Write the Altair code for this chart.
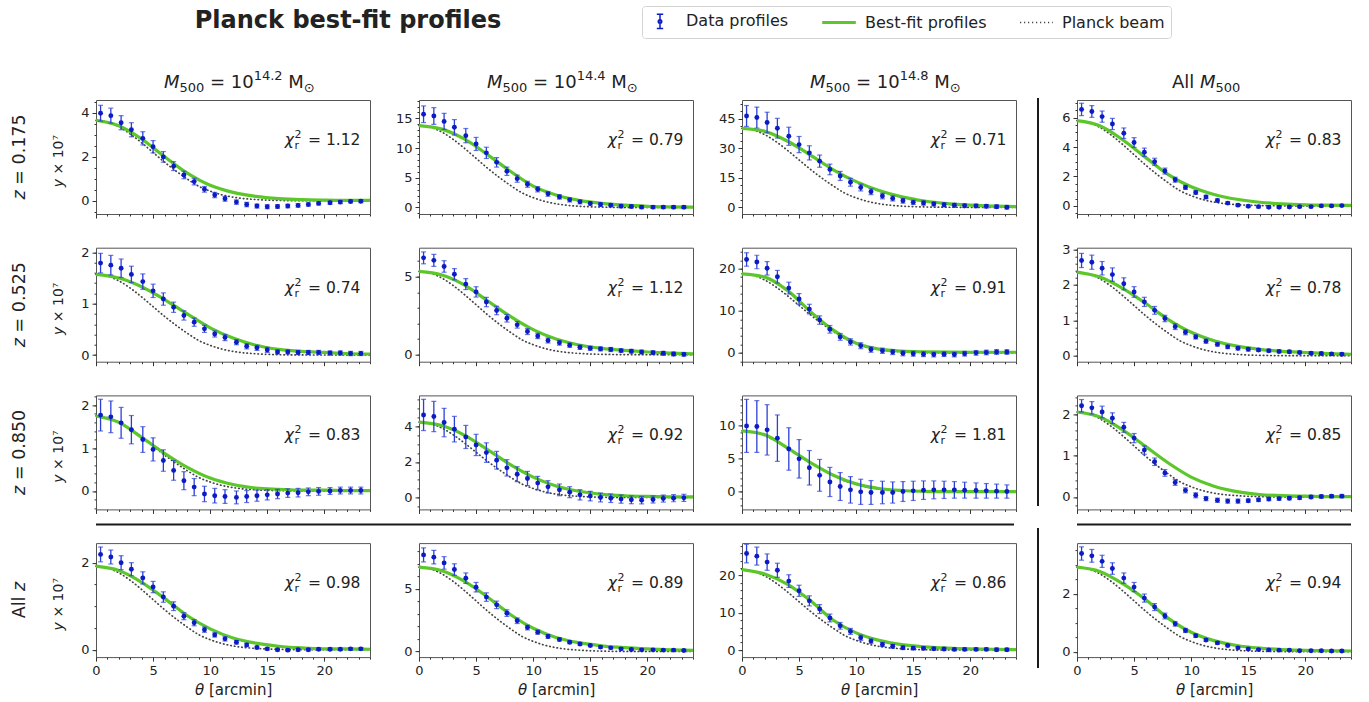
import math

import altair as alt
import pandas as pd

FONT = "DejaVu Sans"
INK = "#222222"
BLUE_PT = "#0b1bc6"
BLUE_BAR = "#2b3fd8"
GREEN = "#5cc72a"
BEAM_GREY = "#444444"

# ---------------------------------------------------------------- data
# angular bin centres of the stacked profiles [arcmin]
theta_bins = [0.4, 1.3, 2.2, 3.1, 4.1, 5.0, 5.9, 6.8, 7.7, 8.6, 9.5, 10.4, 11.3,
              12.3, 13.2, 14.1, 15.0, 15.9, 16.8, 17.7, 18.6, 19.5, 20.5, 21.4, 22.3, 23.2]
# best-fit model sampled every 2 arcmin
fit_theta = [0, 2, 4, 6, 8, 10, 12, 14, 16, 18, 20, 22, 24]
# Planck beam profile, normalised to its peak
beam_theta = [0, 1, 2, 3, 4, 5, 6, 7, 8, 9, 10, 11, 12, 13, 14, 16, 18, 20, 24]
beam_shape = [1.0, 0.98, 0.92, 0.83, 0.72, 0.6, 0.48, 0.37, 0.27, 0.18, 0.12, 0.075,
              0.045, 0.026, 0.015, 0.004, 0.001, 0.0, 0.0]

row_z = ["0.175", "0.525", "0.850", None]
col_logm = ["14.2", "14.4", "14.8", None]
x_major = [0, 5, 10, 15, 20]
x_minor = list(range(0, 25))
SERIES = ["Data profiles", "Best-fit profiles", "Planck beam"]

# z = 0.175
y_z0175_m142 = [3.97, 3.86, 3.54, 3.22, 2.83, 2.45, 1.99, 1.57, 1.17, 0.87, 0.52, 0.26, 0.09,
                -0.06, -0.17, -0.24, -0.27, -0.26, -0.24, -0.21, -0.17, -0.12, -0.09, -0.06, -0.03, -0.02]
err_z0175_m142 = [0.36, 0.34, 0.32, 0.32, 0.3, 0.28, 0.24, 0.2, 0.17, 0.15, 0.13, 0.12, 0.11,
                  0.1, 0.1, 0.09, 0.09, 0.08, 0.08, 0.08, 0.07, 0.07, 0.07, 0.07, 0.07, 0.07]
fit_z0175_m142 = [3.65, 3.4, 2.8, 2.0, 1.25, 0.7, 0.38, 0.2, 0.1, 0.05, 0.03, 0.02, 0.02]

y_z0175_m144 = [15.7, 15.4, 14.5, 13.5, 12.1, 10.7, 9.2, 7.6, 6.1, 4.85, 3.9, 3.07, 2.29,
                1.78, 1.28, 0.95, 0.67, 0.5, 0.39, 0.22, 0.17, 0.06, 0.06, 0.06, 0.05, 0.05]
err_z0175_m144 = [1.4, 1.4, 1.35, 1.3, 1.2, 1.1, 0.95, 0.8, 0.7, 0.6, 0.5, 0.45, 0.4,
                  0.38, 0.35, 0.33, 0.3, 0.3, 0.28, 0.28, 0.27, 0.27, 0.26, 0.26, 0.26, 0.26]
fit_z0175_m144 = [13.8, 13.2, 11.5, 8.9, 6.1, 3.6, 2.1, 1.2, 0.7, 0.38, 0.2, 0.1, 0.05]

y_z0175_m148 = [46.3, 45.5, 43.0, 40.1, 36.0, 31.8, 27.6, 23.4, 19.2, 15.9, 12.7, 10.0, 7.9,
                5.7, 4.5, 3.3, 2.5, 2.2, 1.7, 1.3, 1.0, 0.8, 0.7, 0.5, 0.3, 0.0]
err_z0175_m148 = [5.3, 5.3, 5.2, 5.0, 4.6, 4.1, 3.6, 3.1, 2.7, 2.3, 2.0, 1.7, 1.5,
                  1.4, 1.3, 1.2, 1.1, 1.1, 1.0, 1.0, 1.0, 0.9, 0.9, 0.9, 0.9, 0.9]
fit_z0175_m148 = [40.0, 38.5, 33.5, 26.5, 19.0, 13.0, 8.5, 5.3, 3.2, 1.9, 1.1, 0.6, 0.3]

y_z0175_mall = [6.56, 6.42, 6.07, 5.57, 4.94, 4.31, 3.65, 3.0, 2.37, 1.78, 1.26, 0.91, 0.61,
                0.37, 0.19, 0.05, -0.02, -0.05, -0.09, -0.09, -0.07, -0.05, -0.05, 0.0, 0.0, 0.02]
err_z0175_mall = [0.42, 0.4, 0.38, 0.38, 0.36, 0.33, 0.28, 0.24, 0.2, 0.17, 0.14, 0.12, 0.11,
                  0.1, 0.09, 0.09, 0.08, 0.08, 0.08, 0.08, 0.07, 0.07, 0.07, 0.07, 0.07, 0.07]
fit_z0175_mall = [5.8, 5.45, 4.5, 3.3, 2.13, 1.3, 0.78, 0.45, 0.25, 0.14, 0.08, 0.05, 0.03]

# z = 0.525
y_z0525_m142 = [1.79, 1.75, 1.69, 1.57, 1.43, 1.25, 1.09, 0.93, 0.77, 0.64, 0.51, 0.41, 0.34,
                0.25, 0.17, 0.14, 0.10, 0.06, 0.06, 0.05, 0.05, 0.05, 0.04, 0.04, 0.03, 0.03]
err_z0525_m142 = [0.19, 0.19, 0.18, 0.16, 0.15, 0.13, 0.12, 0.1, 0.09, 0.08, 0.07, 0.06, 0.06,
                  0.05, 0.05, 0.05, 0.05, 0.04, 0.04, 0.04, 0.04, 0.04, 0.04, 0.04, 0.04, 0.04]
fit_z0525_m142 = [1.57, 1.5, 1.33, 1.08, 0.8, 0.53, 0.33, 0.19, 0.11, 0.07, 0.05, 0.03, 0.02]

y_z0525_m144 = [6.2, 6.04, 5.65, 5.15, 4.52, 4.02, 3.37, 2.83, 2.33, 1.91, 1.48, 1.2, 0.91,
                0.76, 0.61, 0.48, 0.41, 0.37, 0.33, 0.26, 0.22, 0.17, 0.13, 0.09, 0.04, 0.02]
err_z0525_m144 = [0.38, 0.38, 0.37, 0.36, 0.35, 0.33, 0.3, 0.27, 0.24, 0.21, 0.19, 0.17, 0.16,
                  0.15, 0.14, 0.14, 0.13, 0.13, 0.13, 0.12, 0.12, 0.12, 0.12, 0.12, 0.12, 0.12]
fit_z0525_m144 = [5.33, 5.1, 4.45, 3.45, 2.45, 1.6, 1.0, 0.62, 0.4, 0.27, 0.17, 0.1, 0.05]

y_z0525_m148 = [22.2, 21.6, 20.1, 18.1, 15.4, 12.8, 10.4, 7.8, 5.6, 3.8, 2.6, 1.7, 0.8,
                0.5, 0.2, -0.1, -0.2, -0.3, -0.4, -0.3, -0.4, -0.2, 0.0, 0.1, 0.2, 0.2]
err_z0525_m148 = [1.6, 1.6, 1.6, 1.5, 1.4, 1.3, 1.15, 1.0, 0.9, 0.8, 0.75, 0.7, 0.65,
                  0.62, 0.6, 0.6, 0.58, 0.58, 0.56, 0.56, 0.55, 0.55, 0.55, 0.55, 0.55, 0.55]
fit_z0525_m148 = [18.8, 18.0, 14.8, 9.8, 5.4, 2.3, 0.9, 0.4, 0.25, 0.18, 0.15, 0.15, 0.15]

y_z0525_mall = [2.69, 2.64, 2.47, 2.29, 2.03, 1.8, 1.52, 1.28, 1.05, 0.82, 0.66, 0.53, 0.41,
                0.32, 0.25, 0.21, 0.18, 0.16, 0.14, 0.12, 0.11, 0.09, 0.07, 0.06, 0.05, 0.04]
err_z0525_mall = [0.2, 0.2, 0.19, 0.19, 0.17, 0.15, 0.13, 0.11, 0.09, 0.08, 0.07, 0.06, 0.06,
                  0.05, 0.05, 0.05, 0.05, 0.04, 0.04, 0.04, 0.04, 0.04, 0.04, 0.04, 0.04, 0.04]
fit_z0525_mall = [2.36, 2.22, 1.9, 1.48, 1.02, 0.66, 0.42, 0.27, 0.18, 0.12, 0.09, 0.06, 0.04]

# z = 0.850
y_z0850_m142 = [1.77, 1.73, 1.59, 1.43, 1.2, 0.97, 0.71, 0.48, 0.24, 0.09, -0.07, -0.11, -0.13,
                -0.15, -0.13, -0.11, -0.09, -0.07, -0.05, -0.04, -0.02, -0.01, 0.0, 0.01, 0.01, 0.01]
err_z0850_m142 = [0.37, 0.37, 0.36, 0.33, 0.3, 0.27, 0.25, 0.23, 0.21, 0.2, 0.18, 0.17, 0.16,
                  0.15, 0.14, 0.13, 0.12, 0.11, 0.1, 0.1, 0.09, 0.09, 0.08, 0.08, 0.08, 0.08]
fit_z0850_m142 = [1.75, 1.6, 1.25, 0.88, 0.55, 0.3, 0.15, 0.07, 0.04, 0.02, 0.02, 0.01, 0.01]

y_z0850_m144 = [4.65, 4.56, 4.22, 3.85, 3.41, 2.96, 2.53, 2.1, 1.67, 1.31, 1.07, 0.81, 0.6,
                0.43, 0.3, 0.15, 0.08, 0.0, -0.04, -0.09, -0.13, -0.15, -0.11, -0.06, -0.04, -0.02]
err_z0850_m144 = [0.88, 0.85, 0.8, 0.72, 0.65, 0.6, 0.55, 0.5, 0.46, 0.42, 0.4, 0.38, 0.35,
                  0.33, 0.31, 0.29, 0.27, 0.25, 0.24, 0.23, 0.22, 0.21, 0.2, 0.2, 0.2, 0.2]
fit_z0850_m144 = [4.25, 4.05, 3.5, 2.7, 1.85, 1.15, 0.65, 0.35, 0.18, 0.1, 0.06, 0.04, 0.03]

y_z0850_m148 = [9.95, 9.85, 9.35, 8.1, 6.47, 4.98, 3.63, 2.49, 1.49, 0.8, 0.3, 0.0, -0.1,
                -0.1, -0.1, 0.05, 0.15, 0.25, 0.3, 0.3, 0.3, 0.25, 0.2, 0.15, 0.1, 0.05]
err_z0850_m148 = [4.0, 3.9, 3.8, 3.5, 3.2, 2.9, 2.6, 2.4, 2.2, 2.1, 2.0, 1.9, 1.8,
                  1.7, 1.6, 1.5, 1.45, 1.4, 1.35, 1.3, 1.25, 1.2, 1.15, 1.1, 1.05, 1.0]
fit_z0850_m148 = [9.2, 8.6, 6.6, 4.4, 2.5, 1.2, 0.5, 0.2, 0.08, 0.04, 0.03, 0.02, 0.02]

y_z0850_mall = [2.2, 2.15, 2.05, 1.9, 1.68, 1.42, 1.13, 0.85, 0.58, 0.35, 0.16, 0.04, -0.04,
                -0.08, -0.1, -0.1, -0.09, -0.07, -0.05, -0.04, -0.03, -0.02, 0.0, 0.01, 0.02, 0.02]
err_z0850_mall = [0.15, 0.15, 0.14, 0.13, 0.12, 0.11, 0.1, 0.09, 0.08, 0.07, 0.06, 0.06, 0.05,
                  0.05, 0.05, 0.05, 0.04, 0.04, 0.04, 0.04, 0.04, 0.04, 0.04, 0.04, 0.04, 0.04]
fit_z0850_mall = [2.05, 1.93, 1.62, 1.22, 0.82, 0.48, 0.26, 0.13, 0.06, 0.03, 0.02, 0.01, 0.01]

# all redshifts
y_zall_m142 = [2.19, 2.13, 2.0, 1.85, 1.65, 1.44, 1.21, 1.0, 0.77, 0.62, 0.46, 0.34, 0.25,
               0.17, 0.11, 0.05, 0.02, 0.0, -0.01, 0.0, 0.0, 0.01, 0.01, 0.01, 0.02, 0.02]
err_zall_m142 = [0.17, 0.16, 0.16, 0.15, 0.14, 0.13, 0.12, 0.1, 0.08, 0.07, 0.06, 0.05, 0.05,
                 0.04, 0.04, 0.03, 0.03, 0.03, 0.03, 0.03, 0.03, 0.03, 0.03, 0.03, 0.03, 0.03]
fit_zall_m142 = [1.92, 1.82, 1.55, 1.18, 0.78, 0.48, 0.27, 0.15, 0.08, 0.04, 0.02, 0.02, 0.01]

y_zall_m144 = [7.71, 7.53, 7.07, 6.54, 5.85, 5.13, 4.34, 3.72, 3.06, 2.45, 1.91, 1.54, 1.2,
               0.96, 0.74, 0.59, 0.48, 0.35, 0.29, 0.21, 0.16, 0.13, 0.13, 0.11, 0.11, 0.08]
err_zall_m144 = [0.56, 0.54, 0.5, 0.46, 0.42, 0.38, 0.34, 0.3, 0.26, 0.22, 0.19, 0.17, 0.15,
                 0.13, 0.12, 0.11, 0.1, 0.1, 0.09, 0.09, 0.09, 0.09, 0.08, 0.08, 0.08, 0.08]
fit_zall_m144 = [6.73, 6.45, 5.6, 4.35, 2.95, 1.85, 1.12, 0.7, 0.45, 0.3, 0.2, 0.13, 0.08]

y_zall_m148 = [25.9, 25.2, 23.6, 21.4, 18.5, 15.9, 13.2, 11.0, 8.6, 6.5, 5.0, 3.3, 2.4,
               1.5, 1.0, 0.6, 0.5, 0.45, 0.35, 0.27, 0.18, 0.18, 0.18, 0.18, 0.09, 0.09]
err_zall_m148 = [2.5, 2.4, 2.2, 1.9, 1.7, 1.5, 1.35, 1.2, 1.05, 0.9, 0.8, 0.7, 0.6,
                 0.55, 0.5, 0.47, 0.45, 0.43, 0.42, 0.41, 0.4, 0.4, 0.4, 0.4, 0.4, 0.4]
fit_zall_m148 = [21.6, 20.4, 17.6, 13.2, 8.0, 4.6, 2.6, 1.45, 0.85, 0.5, 0.3, 0.2, 0.1]

y_zall_mall = [3.39, 3.31, 3.12, 2.87, 2.54, 2.23, 1.85, 1.54, 1.23, 0.96, 0.73, 0.55, 0.4,
               0.3, 0.21, 0.13, 0.09, 0.07, 0.06, 0.05, 0.05, 0.03, 0.03, 0.03, 0.02, 0.02]
err_zall_mall = [0.23, 0.22, 0.21, 0.2, 0.18, 0.16, 0.14, 0.12, 0.1, 0.08, 0.07, 0.06, 0.05,
                 0.05, 0.04, 0.04, 0.04, 0.03, 0.03, 0.03, 0.03, 0.03, 0.03, 0.03, 0.03, 0.03]
fit_zall_mall = [2.92, 2.77, 2.35, 1.8, 1.15, 0.67, 0.38, 0.21, 0.12, 0.07, 0.04, 0.03, 0.02]

chi2_r = [[1.12, 0.79, 0.71, 0.83],
          [0.74, 1.12, 0.91, 0.78],
          [0.83, 0.92, 1.81, 0.85],
          [0.98, 0.89, 0.86, 0.94]]

y_domains = [[[-0.6, 4.57], [-1.1, 18.1], [-3.4, 54.4], [-0.55, 7.2]],
             [[-0.13, 2.09], [-0.45, 6.85], [-2.1, 25.0], [-0.17, 3.05]],
             [[-0.43, 2.23], [-0.67, 5.75], [-2.65, 14.55], [-0.3, 2.45]],
             [[-0.17, 2.45], [-0.45, 8.65], [-1.9, 28.7], [-0.19, 3.75]]]
y_ticks = [[[0, 2, 4], [0, 5, 10, 15], [0, 15, 30, 45], [0, 2, 4, 6]],
           [[0, 1, 2], [0, 5], [0, 10, 20], [0, 1, 2, 3]],
           [[0, 1, 2], [0, 2, 4], [0, 5, 10], [0, 1, 2]],
           [[0, 2], [0, 5], [0, 10, 20], [0, 2]]]
y_minor_step = [[0.5, 1, 3.75, 0.5],
                [0.2, 1, 2, 0.2],
                [0.2, 0.5, 1, 0.2],
                [0.5, 1, 2, 0.5]]

profiles = [
    [(y_z0175_m142, err_z0175_m142, fit_z0175_m142), (y_z0175_m144, err_z0175_m144, fit_z0175_m144),
     (y_z0175_m148, err_z0175_m148, fit_z0175_m148), (y_z0175_mall, err_z0175_mall, fit_z0175_mall)],
    [(y_z0525_m142, err_z0525_m142, fit_z0525_m142), (y_z0525_m144, err_z0525_m144, fit_z0525_m144),
     (y_z0525_m148, err_z0525_m148, fit_z0525_m148), (y_z0525_mall, err_z0525_mall, fit_z0525_mall)],
    [(y_z0850_m142, err_z0850_m142, fit_z0850_m142), (y_z0850_m144, err_z0850_m144, fit_z0850_m144),
     (y_z0850_m148, err_z0850_m148, fit_z0850_m148), (y_z0850_mall, err_z0850_mall, fit_z0850_mall)],
    [(y_zall_m142, err_zall_m142, fit_zall_m142), (y_zall_m144, err_zall_m144, fit_zall_m144),
     (y_zall_m148, err_zall_m148, fit_zall_m148), (y_zall_mall, err_zall_mall, fit_zall_mall)],
]

# ---------------------------------------------------------------- layout
W, H = 274, 114

# legend glyphs drawn as custom symbol paths: error bar with dot, thick line, dotted line
LEGEND_SHAPES = [
    "M0,-0.9V0.9M-0.4,-0.9H0.4M-0.4,0.9H0.4M0.22,0A0.22,0.22,0,1,1,-0.22,0A0.22,0.22,0,1,1,0.22,0",
    "M-2.1,-0.1H2.1M-2.1,0H2.1M-2.1,0.1H2.1",
    "M-2.0,0H-1.85M-1.5,0H-1.35M-1.0,0H-0.85M-0.5,0H-0.35M0,0H0.15M0.5,0H0.65M1.0,0H1.15M1.5,0H1.65M2.0,0H2.1",
]


def txt(text, x, y, size=15, style="normal", weight="normal", align="left",
        baseline="alphabetic", angle=0, color=INK):
    return alt.Chart(pd.DataFrame({"t": [text]})).mark_text(
        align=align, baseline=baseline, fontSize=size, fontStyle=style,
        fontWeight=weight, angle=angle, color=color, font=FONT,
    ).encode(text="t:N", x=alt.value(x), y=alt.value(y))


def rule(x, x2, y, y2, color="#1a1a1a", width=2.0, opacity=1.0):
    return alt.Chart(pd.DataFrame({"k": [0]})).mark_rule(
        color=color, strokeWidth=width, opacity=opacity,
    ).encode(x=alt.value(x), x2=alt.value(x2), y=alt.value(y), y2=alt.value(y2))


def spacer(w):
    # empty, frameless cell that sets the gap between two panel columns
    return alt.Chart(pd.DataFrame({"k": [0]})).mark_rule(opacity=0).encode(
        x=alt.value(0), y=alt.value(0)
    ).properties(width=w, height=H, view=alt.ViewBackground(strokeOpacity=0))


def panel(r, c):
    ys, errs, fit = profiles[r][c]
    lo_d, hi_d = y_domains[r][c]
    xs = alt.Scale(domain=[0, 24], nice=False, zero=False)
    ysc = alt.Scale(domain=[lo_d, hi_d], nice=False, zero=False)
    step = y_minor_step[r][c]
    minor_y = [round(k * step, 4) for k in range(math.ceil(lo_d / step), math.floor(hi_d / step) + 1)]
    bottom = r == 3

    ax_x = alt.Axis(orient="bottom", values=x_major, labels=bottom, tickSize=4,
                    labelFlush=False, labelPadding=3, title=None)
    ax_y = alt.Axis(orient="left", values=y_ticks[r][c], tickSize=4, labelPadding=3, title=None)
    ax_x_minor = alt.Axis(orient="bottom", values=x_minor, labels=False, tickSize=2, title=None)
    ax_y_minor = alt.Axis(orient="left", values=minor_y, labels=False, tickSize=2, title=None)

    pts = pd.DataFrame({"theta": theta_bins, "y": ys,
                        "lo": [v - e for v, e in zip(ys, errs)],
                        "hi": [v + e for v, e in zip(ys, errs)]})
    caps = pd.DataFrame({"theta": theta_bins + theta_bins,
                         "y": list(pts["lo"]) + list(pts["hi"])})
    fit_df = pd.DataFrame({"theta": fit_theta, "y": fit})
    beam_df = pd.DataFrame({"theta": beam_theta, "y": [b * fit[0] for b in beam_shape]})

    layers = [
        alt.Chart(beam_df).mark_line(color=BEAM_GREY, strokeWidth=1.7, strokeDash=[0.5, 3.2],
                                     strokeCap="round", interpolate="monotone").encode(
            x=alt.X("theta:Q", scale=xs, axis=ax_x_minor),
            y=alt.Y("y:Q", scale=ysc, axis=ax_y_minor)),
        alt.Chart(fit_df).mark_line(color=GREEN, strokeWidth=3.2, interpolate="monotone").encode(
            x=alt.X("theta:Q", scale=xs, axis=ax_x),
            y=alt.Y("y:Q", scale=ysc, axis=ax_y)),
        alt.Chart(pts).mark_rule(color=BLUE_BAR, strokeWidth=1.3).encode(
            x=alt.X("theta:Q", scale=xs, axis=None),
            y=alt.Y("lo:Q", scale=ysc, axis=None), y2="hi:Q"),
        alt.Chart(caps).mark_tick(color=BLUE_BAR, orient="horizontal", size=5, thickness=1.2).encode(
            x=alt.X("theta:Q", scale=xs, axis=None),
            y=alt.Y("y:Q", scale=ysc, axis=None)),
        alt.Chart(pts).mark_circle(color=BLUE_PT, size=24, opacity=1).encode(
            x=alt.X("theta:Q", scale=xs, axis=None),
            y=alt.Y("y:Q", scale=ysc, axis=None)),
        # reduced chi-square annotation
        txt("χ", 198, 45, size=15.5, style="italic", align="right"),
        txt("2", 198.5, 38, size=11),
        txt("r", 198.5, 49, size=11),
        txt(f"= {chi2_r[r][c]:.2f}", 212, 45, size=15.5),
    ]

    if bottom:
        # x-axis title with an italic theta
        layers += [
            txt("θ", 99, 152, size=15, style="italic"),
            txt("[arcmin]", 113, 152, size=15),
        ]

    if r == 0:
        if c < 3:
            layers += [
                txt("M", 68, -12, size=18, style="italic"),
                txt("500", 83.5, -8, size=13),
                txt("= 10", 114, -12, size=18),
                txt(col_logm[c], 157.7, -20, size=13),
                txt("M", 192.3, -12, size=18),
                txt("⊙", 207.8, -8, size=13),
            ]
        else:
            layers += [
                txt("All", 95, -12, size=18),
                txt("M", 123, -12, size=18, style="italic"),
                txt("500", 138.5, -8, size=13),
            ]

    if c == 0:
        # row label and y-axis title, both rotated
        if row_z[r] is not None:
            layers += [
                txt("z", -76, 90.3, size=17.5, style="italic", align="right", baseline="middle", angle=270),
                txt(f"= {row_z[r]}", -76, 84.7, size=17.5, align="left", baseline="middle", angle=270),
            ]
        else:
            layers += [
                txt("All", -76, 53.5, size=17.5, align="right", baseline="middle", angle=270),
                txt("z", -76, 47.9, size=17.5, style="italic", align="left", baseline="middle", angle=270),
            ]
        layers += [
            txt("y", -37, 79, size=14, style="italic", align="right", baseline="middle", angle=270),
            txt("× 10⁷", -37, 74.5, size=14, align="left", baseline="middle", angle=270),
        ]

    if r == 0 and c == 0:
        legend = alt.Legend(
            orient="none", legendX=546, legendY=-94, direction="horizontal", title=None,
            symbolSize=256, symbolStrokeWidth=1.5, symbolOffset=3, symbolOpacity=1,
            labelOffset=17, labelFont=FONT, labelFontSize=16, labelColor=INK, labelLimit=300,
            columnPadding=30, padding=6, strokeColor="#d4d4d4", fillColor="white", cornerRadius=3,
        )
        key_df = pd.DataFrame({"series": SERIES, "theta": [-5, -5, -5], "y": [0, 0, 0]})
        layers += [
            alt.Chart(key_df).mark_point(filled=False, clip=True).encode(
                x=alt.X("theta:Q", scale=xs, axis=None),
                y=alt.Y("y:Q", scale=ysc, axis=None),
                color=alt.Color("series:N", scale=alt.Scale(domain=SERIES, range=[BLUE_PT, GREEN, BEAM_GREY]),
                                legend=legend),
                shape=alt.Shape("series:N", scale=alt.Scale(domain=SERIES, range=LEGEND_SHAPES),
                                legend=legend)),
            txt("Planck best-fit profiles", 252, -72, size=24, weight="bold", align="center"),
            # fixes the top-left corner of the drawing
            rule(-95, -94, -99, -99, opacity=0),
        ]

    # separators between the individual and the combined stacks
    if r == 2 and c == 0:
        layers.append(rule(0, 918, 129, 129))
    if r == 2 and c == 3:
        layers.append(rule(0, 274, 129, 129))
    if r == 0 and c == 3:
        layers.append(rule(-39, -39, -2, 406))
    if r == 3 and c == 3:
        layers.append(rule(-39, -39, -15, 125))

    return alt.layer(*layers).resolve_axis(x="independent", y="independent").properties(width=W, height=H)


cells = []
for r in range(4):
    cells += [panel(r, 0), spacer(23.5), panel(r, 1), spacer(23.5), panel(r, 2), spacer(36), panel(r, 3)]

chart = alt.concat(
    *cells, columns=7, spacing={"row": 33.7, "column": 12.5}, bounds="flush", align="each"
).properties(
    padding=0, background="white"
).configure(font=FONT).configure_view(
    stroke="#555555", strokeWidth=1
).configure_axis(
    labelFont=FONT, labelFontSize=13, labelColor="#222222", tickColor="#333333", tickWidth=1,
    domain=False, grid=False, titleFont=FONT, titleFontSize=15, titleColor=INK,
    titleFontWeight="normal",
)

chart.save("out.html", embed_options={"renderer": "svg", "actions": False})
